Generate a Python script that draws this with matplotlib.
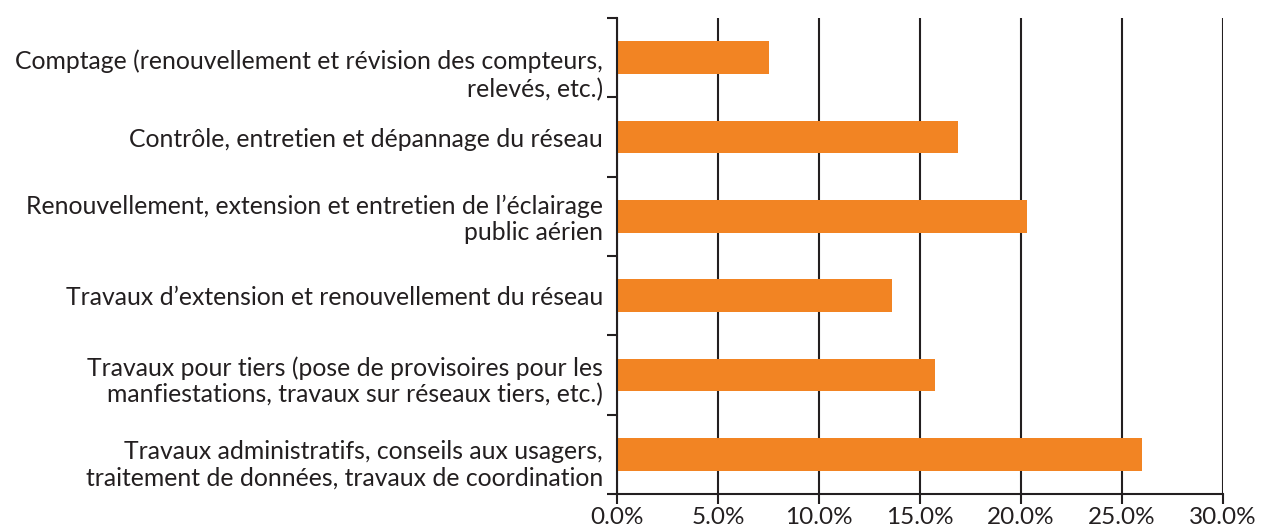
import matplotlib
matplotlib.use("Agg")
import matplotlib.pyplot as plt
import matplotlib.transforms as mtransforms
import numpy as np
from matplotlib.ticker import FuncFormatter, FixedLocator

# categories, top to bottom
categories = [
    "Comptage (renouvellement et révision des compteurs,\nrelevés, etc.)",
    "Contrôle, entretien et dépannage du réseau",
    "Renouvellement, extension et entretien de l\u2019éclairage\npublic aérien",
    "Travaux d\u2019extension et renouvellement du réseau",
    "Travaux pour tiers (pose de provisoires pour les\nmanfiestations, travaux sur réseaux tiers, etc.)",
    "Travaux administratifs, conseils aux usagers,\ntraitement de données, travaux de coordination",
]
values = [7.5, 16.9, 20.3, 13.6, 15.75, 26.0]
xticks = [0, 5, 10, 15, 20, 25, 30]

plt.rcParams["font.family"] = ["Lato", "DejaVu Sans"]

fig = plt.figure(figsize=(12.61, 5.31), dpi=100)
ax = fig.add_axes([617 / 1261, 1 - 494 / 531, (1223 - 617) / 1261, (494 - 18) / 531])

ypos = np.arange(len(categories))
ax.barh(ypos, values, height=0.41, color="#F28423", zorder=3)

ax.set_xlim(0, 30)
ax.set_ylim(len(categories) - 0.5, -0.5)

ax.xaxis.set_major_locator(FixedLocator(xticks))
ax.xaxis.set_major_formatter(FuncFormatter(lambda v, p: "%.1f%%" % v))
ax.grid(axis="x", color="#231F20", linewidth=1.5, zorder=1)

# category labels at bar centres, tick marks at boundaries
ax.set_yticks(ypos)
ax.set_yticklabels(categories, fontsize=17.8, color="#231F20", linespacing=1.15)
ax.tick_params(axis="y", which="major", length=0, pad=10)
ax.set_yticks(np.arange(-0.5, len(categories), 1.0), minor=True)
ax.tick_params(axis="y", which="minor", length=7, width=1.5, color="#231F20")
ax.tick_params(axis="x", length=7, width=1.5, color="#231F20",
               labelsize=17.5, labelcolor="#231F20", pad=2)

# excel pushes some wrapped labels a bit lower
shift_px = [13, 0, 0, 0, 3, 7]
for lab, dy in zip(ax.get_yticklabels(), shift_px):
    if dy:
        lab.set_transform(lab.get_transform() +
                          mtransforms.ScaledTranslation(0, -dy / 100, fig.dpi_scale_trans))
ax.get_yticklabels()[0].set_linespacing(1.28)

for s in ["top", "right"]:
    ax.spines[s].set_visible(False)
for s in ["left", "bottom"]:
    ax.spines[s].set_color("#231F20")
    ax.spines[s].set_linewidth(1.5)
    ax.spines[s].set_zorder(4)

plt.savefig("out.png", dpi=100)
